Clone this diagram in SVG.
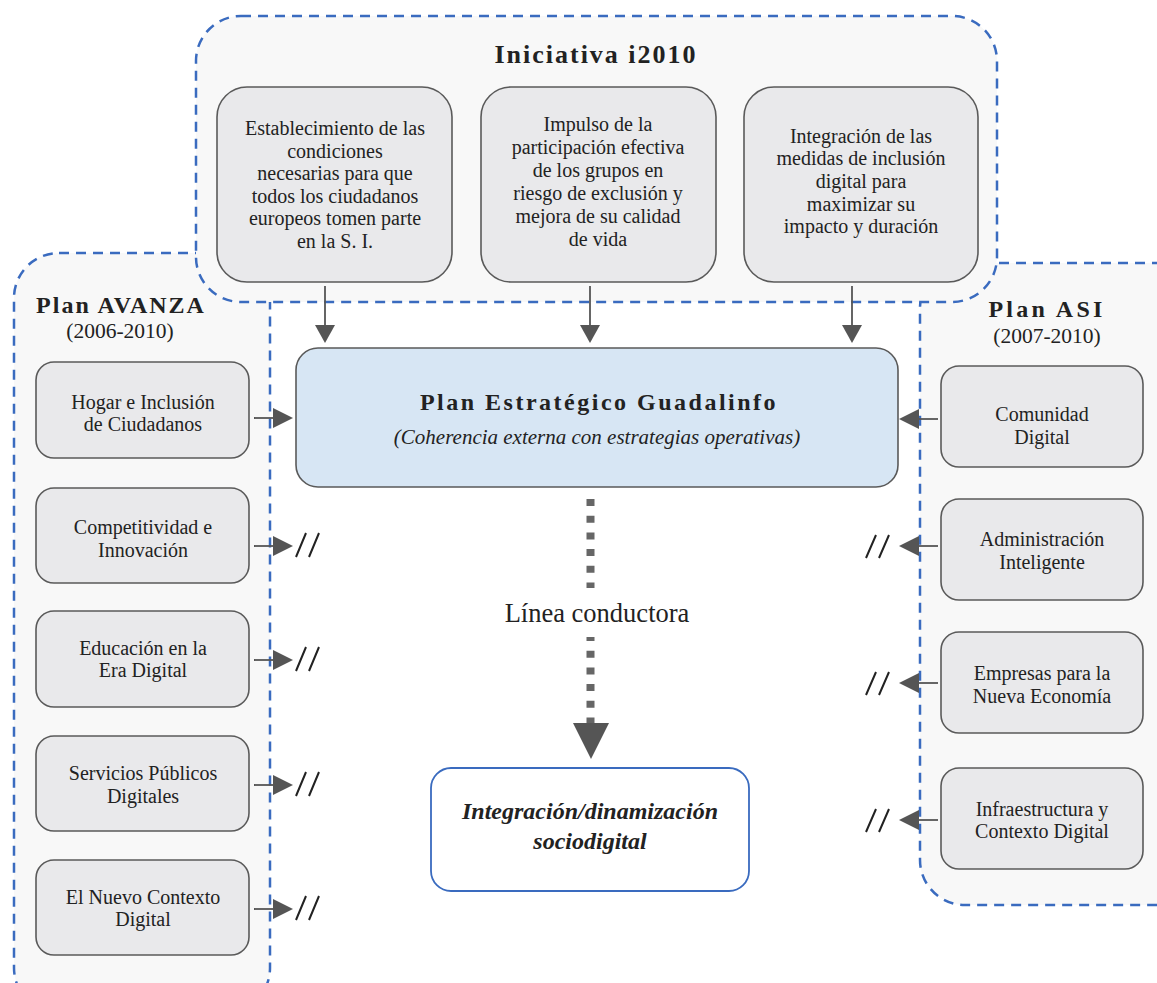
<svg xmlns="http://www.w3.org/2000/svg" width="1157" height="983" viewBox="0 0 1157 983">
<defs>
<style>
.cont{fill:#f8f8f8;stroke:#3a6bbf;stroke-width:2.5;stroke-dasharray:10 7}
.box{fill:#e9e9eb;stroke:#5a5a5a;stroke-width:1.6}
.main{fill:#d7e6f4;stroke:#5a5a5a;stroke-width:1.6}
.out{fill:#ffffff;stroke:#3a6bbf;stroke-width:1.8}
text{font-family:"Liberation Serif","Times New Roman",serif;fill:#222;text-anchor:middle}
.t{font-size:20px}
.h{font-size:26px;font-weight:bold;letter-spacing:2px}
.h2{font-size:24px;font-weight:bold;letter-spacing:2px}
.y{font-size:21.5px}
.ln{stroke:#555;stroke-width:1.8;fill:none}
.sl{stroke:#222;stroke-width:2;fill:none}
</style>
</defs>

<g id="plan-avanza">
<rect class="cont" x="14" y="253" width="256" height="760" rx="45"/>
<text class="h2" x="121" y="313">Plan AVANZA</text>
<text class="y" x="120" y="338">(2006-2010)</text>
</g>
<g id="plan-asi">
<rect class="cont" x="920" y="263" width="290" height="642" rx="45"/>
<text class="h2" x="1047" y="317" style="letter-spacing:3.2px">Plan ASI</text>
<text class="y" x="1047" y="343">(2007-2010)</text>
</g>
<g id="iniciativa-i2010">
<rect class="cont" x="196" y="16" width="801" height="286" rx="45"/>
<text class="h" x="596" y="63">Iniciativa i2010</text>
</g>

<g id="i1">
<rect class="box" x="217" y="87" width="235" height="195" rx="30"/>
<text class="t" x="335" y="135">Establecimiento de las</text>
<text class="t" x="335" y="158">condiciones</text>
<text class="t" x="335" y="180">necesarias para que</text>
<text class="t" x="335" y="203">todos los ciudadanos</text>
<text class="t" x="335" y="225">europeos tomen parte</text>
<text class="t" x="335" y="248">en la S. I.</text>
</g>
<g id="i2">
<rect class="box" x="481" y="87" width="235" height="195" rx="30"/>
<text class="t" x="598" y="131">Impulso de la</text>
<text class="t" x="598" y="154">participación efectiva</text>
<text class="t" x="598" y="177">de los grupos en</text>
<text class="t" x="598" y="200">riesgo de exclusión y</text>
<text class="t" x="598" y="223">mejora de su calidad</text>
<text class="t" x="598" y="246">de vida</text>
</g>
<g id="i3">
<rect class="box" x="744" y="87" width="234" height="195" rx="30"/>
<text class="t" x="861" y="143">Integración de las</text>
<text class="t" x="861" y="165">medidas de inclusión</text>
<text class="t" x="861" y="188">digital para</text>
<text class="t" x="861" y="211">maximizar su</text>
<text class="t" x="861" y="233">impacto y duración</text>
</g>

<g id="guadalinfo">
<rect class="main" x="296" y="348" width="602" height="139" rx="22"/>
<text x="599" y="410" style="font-size:24px;font-weight:bold;letter-spacing:2.5px">Plan Estratégico Guadalinfo</text>
<text x="597" y="444" style="font-size:21px;font-style:italic">(Coherencia externa con estrategias operativas)</text>
</g>

<g id="a1">
<rect class="box" x="36" y="362" width="213" height="96" rx="18"/>
<text class="t" x="143" y="409">Hogar e Inclusión</text>
<text class="t" x="143" y="431">de Ciudadanos</text>
</g>
<g id="a2">
<rect class="box" x="36" y="488" width="213" height="95" rx="18"/>
<text class="t" x="143" y="534">Competitividad e</text>
<text class="t" x="143" y="557">Innovación</text>
</g>
<g id="a3">
<rect class="box" x="36" y="611" width="213" height="96" rx="18"/>
<text class="t" x="143" y="655">Educación en la</text>
<text class="t" x="143" y="677">Era Digital</text>
</g>
<g id="a4">
<rect class="box" x="36" y="736" width="213" height="95" rx="18"/>
<text class="t" x="143" y="780">Servicios Públicos</text>
<text class="t" x="143" y="803">Digitales</text>
</g>
<g id="a5">
<rect class="box" x="36" y="860" width="213" height="95" rx="18"/>
<text class="t" x="143" y="904">El Nuevo Contexto</text>
<text class="t" x="143" y="926">Digital</text>
</g>

<g id="s1">
<rect class="box" x="941" y="366" width="202" height="101" rx="18"/>
<text class="t" x="1042" y="421">Comunidad</text>
<text class="t" x="1042" y="444">Digital</text>
</g>
<g id="s2">
<rect class="box" x="941" y="499" width="202" height="101" rx="18"/>
<text class="t" x="1042" y="546">Administración</text>
<text class="t" x="1042" y="569">Inteligente</text>
</g>
<g id="s3">
<rect class="box" x="941" y="632" width="202" height="101" rx="18"/>
<text class="t" x="1042" y="680">Empresas para la</text>
<text class="t" x="1042" y="703">Nueva Economía</text>
</g>
<g id="s4">
<rect class="box" x="941" y="768" width="202" height="101" rx="18"/>
<text class="t" x="1042" y="816">Infraestructura y</text>
<text class="t" x="1042" y="838">Contexto Digital</text>
</g>

<g id="resultado">
<rect class="out" x="431" y="768" width="318" height="123" rx="20"/>
<text x="590" y="819" style="font-size:24px;font-weight:bold;font-style:italic">Integración/dinamización</text>
<text x="590" y="849" style="font-size:24px;font-weight:bold;font-style:italic">sociodigital</text>
</g>

<text x="597" y="622" style="font-size:26.5px">Línea conductora</text>

<g id="connectors">
<line class="ln" x1="325" y1="286" x2="325" y2="325"/>
<path d="M315,325L335,325L325,343z" fill="#555"/>
<line class="ln" x1="590" y1="286" x2="590" y2="325"/>
<path d="M580,325L600,325L590,343z" fill="#555"/>
<line class="ln" x1="852" y1="286" x2="852" y2="325"/>
<path d="M842,325L862,325L852,343z" fill="#555"/>

<line class="ln" x1="254" y1="418" x2="274" y2="418"/>
<path d="M273,408L293,418L273,428z" fill="#555"/>
<line class="ln" x1="254" y1="546" x2="274" y2="546"/>
<path d="M273,536L293,546L273,556z" fill="#555"/>
<path class="sl" d="M296,557L306,533M309,557L319,533"/>
<line class="ln" x1="254" y1="660" x2="274" y2="660"/>
<path d="M273,650L293,660L273,670z" fill="#555"/>
<path class="sl" d="M296,671L306,647M309,671L319,647"/>
<line class="ln" x1="254" y1="785" x2="274" y2="785"/>
<path d="M273,775L293,785L273,795z" fill="#555"/>
<path class="sl" d="M296,796L306,772M309,796L319,772"/>
<line class="ln" x1="254" y1="909" x2="274" y2="909"/>
<path d="M273,899L293,909L273,919z" fill="#555"/>
<path class="sl" d="M296,920L306,896M309,920L319,896"/>

<line class="ln" x1="938" y1="419" x2="918" y2="419"/>
<path d="M919,409L899,419L919,429z" fill="#555"/>
<line class="ln" x1="938" y1="546" x2="918" y2="546"/>
<path d="M919,536L899,546L919,556z" fill="#555"/>
<path class="sl" d="M866,558L876,535M879,558L889,535"/>
<line class="ln" x1="938" y1="683" x2="918" y2="683"/>
<path d="M919,673L899,683L919,693z" fill="#555"/>
<path class="sl" d="M866,695L876,672M879,695L889,672"/>
<line class="ln" x1="938" y1="820" x2="918" y2="820"/>
<path d="M919,810L899,820L919,830z" fill="#555"/>
<path class="sl" d="M866,832L876,809M879,832L889,809"/>

<line x1="590.5" y1="499" x2="590.5" y2="588" stroke="#666" stroke-width="8" stroke-dasharray="7 9.7"/>
<line x1="590.5" y1="637" x2="590.5" y2="724" stroke="#666" stroke-width="8" stroke-dasharray="7 9.7" stroke-dashoffset="3"/>
<path d="M573,723L609,723L591,759z" fill="#555"/>
</g>
</svg>
